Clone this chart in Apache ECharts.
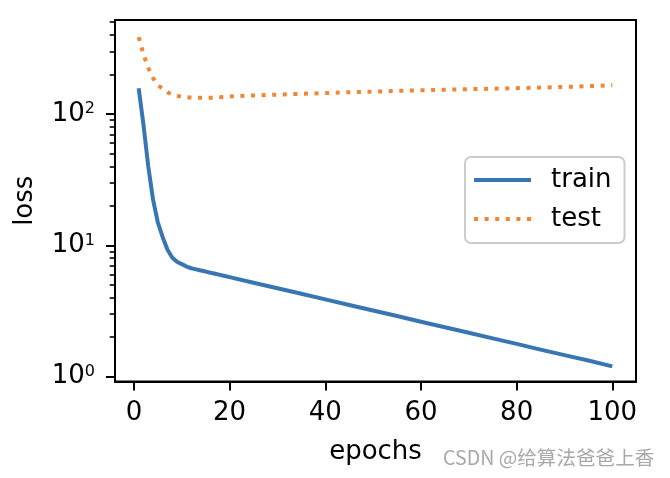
<!DOCTYPE html>
<html>
<head>
<meta charset="utf-8">
<script src="https://cdn.jsdelivr.net/npm/echarts@6/dist/echarts.min.js"></script>
<style>html,body{margin:0;padding:0;background:#fff}#c{width:670px;height:478px}</style>
</head>
<body>
<div id="c"></div>
<script>
const epochs = [1,2,3,4,5,6,7,8,9,10,11,12,13,14,15,16,17,18,19,20,25,30,35,40,45,50,55,60,65,70,75,80,85,90,95,100];
const train = [157,83,40,22.3,15,11.6,9.3,8.1,7.5,7.2,6.9,6.7,6.57,6.44,6.32,6.19,6.08,5.96,5.85,5.73,5.2,4.72,4.28,3.88,3.52,3.19,2.9,2.62,2.38,2.16,1.96,1.78,1.61,1.46,1.33,1.2];
const test = [385,285,225,188,166,156,146.5,141,137.5,135.5,134,133.5,133,133,133,133,133.5,134,135,136,138.5,140.5,142.5,144.5,146.5,148,150,151.5,153,154.5,156,157.5,159,161,163,166];
const xTicks = [0,20,40,60,80,100];
const yMajor = [1,10,100];
const yMinor = [2,3,4,5,6,7,8,9,20,30,40,50,60,70,80,90,200,300,400,500];
const seriesNames = ['train','test'];
const colors = ['#3776b2','#f28533'];

const FONT = 'DejaVu Sans';
const chart = echarts.init(document.getElementById('c'), null, {renderer:'canvas'});
const pairs = arr => epochs.map((e,i)=>[e, arr[i]]);
const testIcon = 'path://M0,0h4v4h-4zM10.6,0h4v4h-4zM21.2,0h4v4h-4zM31.8,0h4v4h-4zM42.4,0h4v4h-4zM53,0h4v4h-4z';
const trainIcon = 'path://M0,0h57v4h-57z';

chart.setOption({
  animation:false,
  backgroundColor:'#fff',
  grid:{left:115, top:20, width:521, height:361.5, show:true, borderColor:'#000', borderWidth:2, backgroundColor:'transparent'},
  xAxis:{
    type:'value', min:-3.95, max:104.95,
    axisLine:{show:true, onZero:false, lineStyle:{color:'#000', width:2}},
    axisTick:{show:true, customValues:xTicks, length:9, lineStyle:{color:'#000', width:2}},
    axisLabel:{customValues:xTicks, margin:19, color:'#000', fontFamily:FONT, fontSize:26},
    splitLine:{show:false},
    name:'epochs', nameLocation:'middle', nameGap:58,
    nameTextStyle:{color:'#000', fontFamily:FONT, fontSize:26}
  },
  yAxis:[{
    type:'log', logBase:10, min:0.92, max:520, position:'left',
    axisLine:{show:true, onZero:false, lineStyle:{color:'#000', width:2}},
    axisTick:{show:true, customValues:yMajor, length:9, lineStyle:{color:'#000', width:2}},
    axisLabel:{customValues:yMajor, margin:20, color:'#000', fontFamily:FONT, fontSize:26, lineHeight:26,
      formatter: v => '10{s|' + Math.round(Math.log10(v)) + '}',
      rich:{s:{fontSize:16, fontFamily:FONT, color:'#000', verticalAlign:'top', lineHeight:14}}},
    splitLine:{show:false},
    name:'loss', nameLocation:'middle', nameGap:77,
    nameTextStyle:{color:'#000', fontFamily:FONT, fontSize:26}
  },{
    type:'log', logBase:10, min:0.92, max:520, position:'left', offset:0,
    axisLine:{show:false, onZero:false},
    axisTick:{show:true, customValues:yMinor, length:5.3, lineStyle:{color:'#000', width:1.6}},
    axisLabel:{show:false},
    splitLine:{show:false}
  }],
  legend:{
    orient:'vertical', left:465, top:157,
    padding:[10,13,11,9], itemGap:13, itemWidth:57, itemHeight:4,
    backgroundColor:'rgba(255,255,255,0.8)', borderColor:'#cccccc', borderWidth:2, borderRadius:6,
    textStyle:{color:'#000', fontFamily:FONT, fontSize:26, lineHeight:26, padding:[0,0,0,15]},
    itemStyle:{borderWidth:0},
    data:[{name:seriesNames[0], icon:trainIcon},{name:seriesNames[1], icon:testIcon}]
  },
  series:[
    {name:seriesNames[0], type:'line', data:pairs(train), showSymbol:false, symbol:'none',
     color:colors[0], itemStyle:{color:colors[0]},
     lineStyle:{color:colors[0], width:4, cap:'butt', join:'round'}},
    {name:seriesNames[1], type:'line', data:pairs(test), showSymbol:false, symbol:'none',
     color:colors[1], itemStyle:{color:colors[1]},
     lineStyle:{color:colors[1], width:4, type:[4,6.6], cap:'butt', join:'round'}}
  ],
  graphic:[{type:'text', left:443, top:448, style:{text:'CSDN @给算法爸爸上香', fill:'#a8a8a8', font:'19.6px "Noto Sans CJK SC"'}}]
});
</script>
</body>
</html>
